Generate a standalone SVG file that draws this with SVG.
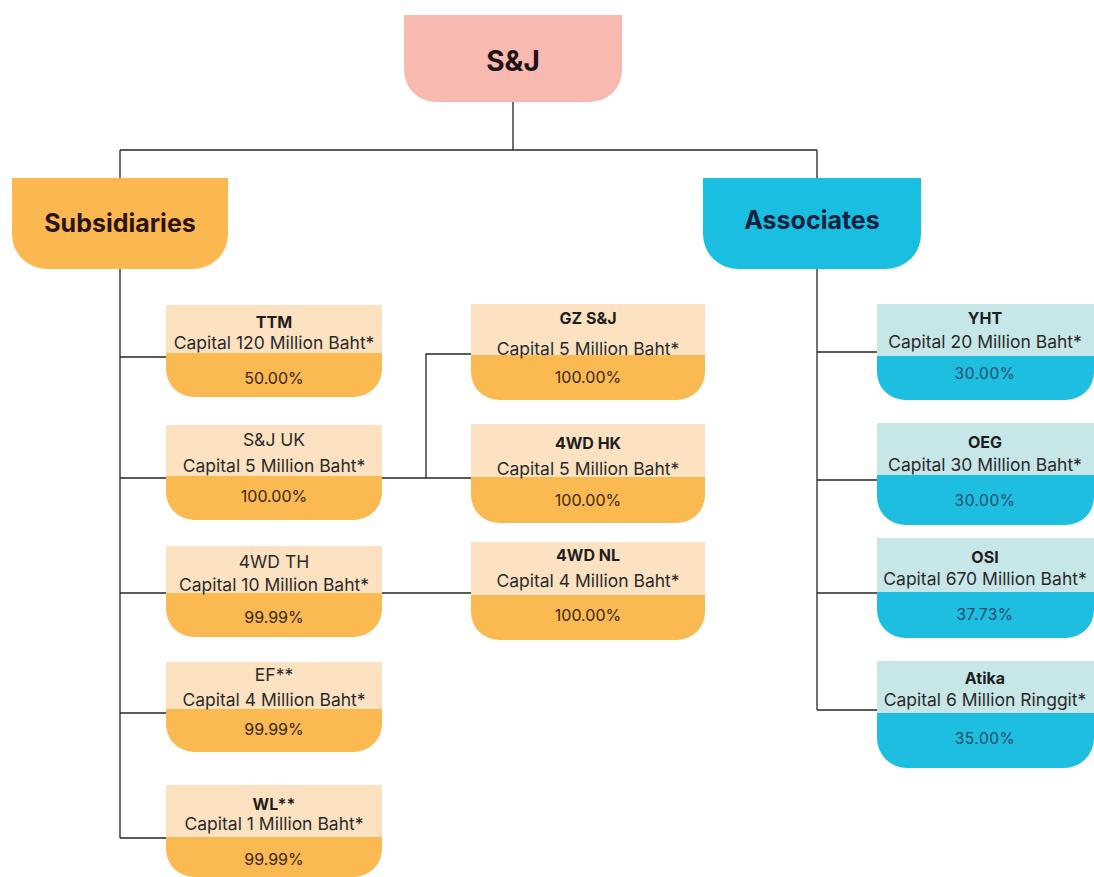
<svg xmlns="http://www.w3.org/2000/svg" width="1094" height="877" viewBox="0 0 1094 877">
<style>
.bg{fill:#ffffff}
.ln{stroke:#262626;stroke-width:1.3;fill:none}
.od{fill:#FBB951}
.ol{fill:#FDE2C2}
.cd{fill:#1DBEE0}
.cl{fill:#C7E6E8}
.t{font-family:Inter,"Noto Sans","Liberation Sans",sans-serif;text-anchor:middle}
.hd{font-size:25px;font-weight:700}
.ti{font-size:16px;font-weight:700;fill:#1e1e1e}
.ca{font-size:17.5px;font-weight:400;fill:#2a2a2a}
.pc{font-size:16px;font-weight:400;fill:#3a2610}
.pcc{font-size:15.5px;font-weight:400;fill:#1d4b6b;letter-spacing:0.5px}
</style>
<rect class="bg" x="0" y="0" width="1094" height="877"/>
<g id="connectors">
<path class="ln" d="M513 102V150M120 150H817M120 150V178M817 150V178"/>
<path class="ln" d="M120 269V838M120 357H166M120 478H166M120 593H166M120 713H166M120 838H166"/>
<path class="ln" d="M382 478H471M426 478V354H471M382 593H471"/>
<path class="ln" d="M817 269V710M817 352H877M817 480H877M817 593H877M817 710H877"/>
</g>
<g id="sj">
<path d="M404 15H622V70A32 32 0 0 1 590 102H436A32 32 0 0 1 404 70Z" fill="#F8B9B1"/>
<text class="t" x="513" y="71" font-size="28" font-weight="700" fill="#1e1212">S&amp;J</text>
</g>
<g id="subsidiaries">
<path d="M12 178H228V234A35 35 0 0 1 193 269H47A35 35 0 0 1 12 234Z" fill="#FBB850"/>
<text class="t hd" x="120" y="232" fill="#2a1414">Subsidiaries</text>
</g>
<g id="associates">
<path d="M703 178H921V234A35 35 0 0 1 886 269H738A35 35 0 0 1 703 234Z" fill="#19BEE0"/>
<text class="t hd" x="812" y="229" fill="#15213f">Associates</text>
</g>
<g id="ttm">
<path class="od" d="M166 305H382V369A28 28 0 0 1 354 397H194A28 28 0 0 1 166 369Z"/>
<rect class="ol" x="166" y="305" width="216" height="48"/>
<text class="t ti" x="274" y="328">TTM</text>
<text class="t ca" x="274" y="349">Capital 120 Million Baht*</text>
<text class="t pc" x="274" y="384">50.00%</text>
</g>
<g id="sjuk">
<path class="od" d="M166 425H382V492A28 28 0 0 1 354 520H194A28 28 0 0 1 166 492Z"/>
<rect class="ol" x="166" y="425" width="216" height="51"/>
<text class="t ca" x="274" y="446">S&amp;J UK</text>
<text class="t ca" x="274" y="472">Capital 5 Million Baht*</text>
<text class="t pc" x="274" y="502">100.00%</text>
</g>
<g id="4wdth">
<path class="od" d="M166 546H382V609A28 28 0 0 1 354 637H194A28 28 0 0 1 166 609Z"/>
<rect class="ol" x="166" y="546" width="216" height="47"/>
<text class="t ca" x="274" y="568">4WD TH</text>
<text class="t ca" x="274" y="591">Capital 10 Million Baht*</text>
<text class="t pc" x="274" y="623">99.99%</text>
</g>
<g id="ef">
<path class="od" d="M166 662H382V724A28 28 0 0 1 354 752H194A28 28 0 0 1 166 724Z"/>
<rect class="ol" x="166" y="662" width="216" height="47"/>
<text class="t ca" x="274" y="681">EF**</text>
<text class="t ca" x="274" y="706">Capital 4 Million Baht*</text>
<text class="t pc" x="274" y="735">99.99%</text>
</g>
<g id="wl">
<path class="od" d="M166 785H382V849A28 28 0 0 1 354 877H194A28 28 0 0 1 166 849Z"/>
<rect class="ol" x="166" y="785" width="216" height="52"/>
<text class="t ti" x="274" y="810">WL**</text>
<text class="t ca" x="274" y="830">Capital 1 Million Baht*</text>
<text class="t pc" x="274" y="865">99.99%</text>
</g>
<g id="gzsj">
<path class="od" d="M471 304H705V372A28 28 0 0 1 677 400H499A28 28 0 0 1 471 372Z"/>
<rect class="ol" x="471" y="304" width="234" height="51"/>
<text class="t ti" x="588" y="324">GZ S&amp;J</text>
<text class="t ca" x="588" y="355">Capital 5 Million Baht*</text>
<text class="t pc" x="588" y="383">100.00%</text>
</g>
<g id="4wdhk">
<path class="od" d="M471 424H705V495A28 28 0 0 1 677 523H499A28 28 0 0 1 471 495Z"/>
<rect class="ol" x="471" y="424" width="234" height="53"/>
<text class="t ti" x="588" y="449">4WD HK</text>
<text class="t ca" x="588" y="475">Capital 5 Million Baht*</text>
<text class="t pc" x="588" y="506">100.00%</text>
</g>
<g id="4wdnl">
<path class="od" d="M471 542H705V612A28 28 0 0 1 677 640H499A28 28 0 0 1 471 612Z"/>
<rect class="ol" x="471" y="542" width="234" height="53"/>
<text class="t ti" x="588" y="561">4WD NL</text>
<text class="t ca" x="588" y="587">Capital 4 Million Baht*</text>
<text class="t pc" x="588" y="621">100.00%</text>
</g>
<g id="yht">
<path class="cd" d="M877 304H1094V372A28 28 0 0 1 1066 400H905A28 28 0 0 1 877 372Z"/>
<rect class="cl" x="877" y="304" width="217" height="52"/>
<text class="t ti" x="985" y="324">YHT</text>
<text class="t ca" x="985" y="348">Capital 20 Million Baht*</text>
<text class="t pcc" x="985" y="379">30.00%</text>
</g>
<g id="oeg">
<path class="cd" d="M877 423H1094V497A28 28 0 0 1 1066 525H905A28 28 0 0 1 877 497Z"/>
<rect class="cl" x="877" y="423" width="217" height="52"/>
<text class="t ti" x="985" y="448">OEG</text>
<text class="t ca" x="985" y="471">Capital 30 Million Baht*</text>
<text class="t pcc" x="985" y="506">30.00%</text>
</g>
<g id="osi">
<path class="cd" d="M877 538H1094V610A28 28 0 0 1 1066 638H905A28 28 0 0 1 877 610Z"/>
<rect class="cl" x="877" y="538" width="217" height="54"/>
<text class="t ti" x="985" y="563">OSI</text>
<text class="t ca" x="985" y="585">Capital 670 Million Baht*</text>
<text class="t pcc" x="985" y="620">37.73%</text>
</g>
<g id="atika">
<path class="cd" d="M877 661H1094V738A30 30 0 0 1 1064 768H907A30 30 0 0 1 877 738Z"/>
<rect class="cl" x="877" y="661" width="217" height="52"/>
<text class="t ti" x="985" y="684">Atika</text>
<text class="t ca" x="985" y="706">Capital 6 Million Ringgit*</text>
<text class="t pcc" x="985" y="744">35.00%</text>
</g>
</svg>
